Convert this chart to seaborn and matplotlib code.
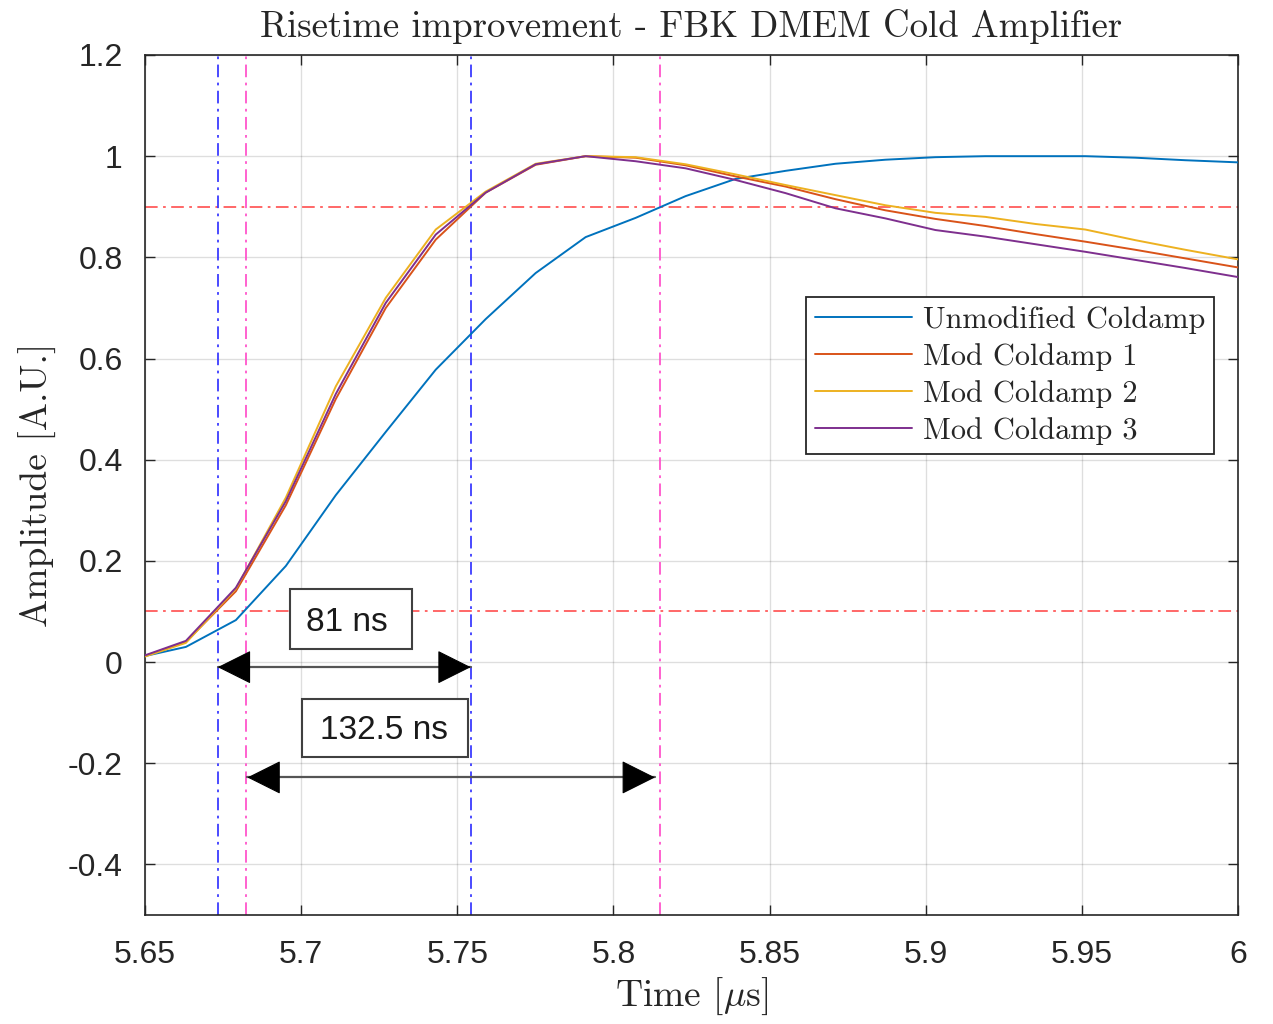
import numpy as np
import pandas as pd
import matplotlib
matplotlib.use("Agg")
import matplotlib.pyplot as plt
import seaborn as sns

# ---------------- data ----------------
time_us = [5.6471, 5.6631, 5.6791, 5.6951, 5.7111, 5.7271, 5.7431, 5.7591,
           5.7751, 5.7911, 5.8071, 5.8231, 5.8391, 5.8551, 5.8711, 5.8871,
           5.9031, 5.9191, 5.9351, 5.9511, 5.9671, 5.9831, 5.9991, 6.0151]

unmodified = [0.008, 0.030, 0.083, 0.190, 0.330, 0.455, 0.578, 0.678,
              0.769, 0.840, 0.878, 0.921, 0.955, 0.971, 0.985, 0.993,
              0.998, 1.000, 1.000, 1.000, 0.997, 0.992, 0.988, 0.984]
mod1 = [0.006, 0.040, 0.140, 0.310, 0.520, 0.700, 0.835, 0.928,
        0.983, 1.000, 0.997, 0.982, 0.960, 0.940, 0.915, 0.893,
        0.876, 0.862, 0.846, 0.831, 0.815, 0.798, 0.781, 0.765]
mod2 = [0.005, 0.038, 0.145, 0.325, 0.545, 0.720, 0.855, 0.930,
        0.985, 1.000, 0.998, 0.984, 0.964, 0.943, 0.923, 0.903,
        0.888, 0.880, 0.866, 0.855, 0.834, 0.815, 0.797, 0.780]
mod3 = [0.007, 0.042, 0.147, 0.318, 0.530, 0.710, 0.845, 0.928,
        0.984, 1.000, 0.990, 0.976, 0.953, 0.927, 0.897, 0.877,
        0.854, 0.841, 0.826, 0.811, 0.795, 0.779, 0.762, 0.745]

series_names = ["Unmodified Coldamp", "Mod Coldamp 1", "Mod Coldamp 2", "Mod Coldamp 3"]
series_colors = ["#0072BD", "#D95319", "#EDB120", "#7E2F8E"]

# threshold levels and crossing times
levels = [0.1, 0.9]
mod_t10, mod_t90 = 5.6733, 5.7543      # 81 ns
unmod_t10, unmod_t90 = 5.6823, 5.8148  # 132.5 ns
label_mod = "81 ns"
label_unmod = "132.5 ns"

xticks = [5.65, 5.7, 5.75, 5.8, 5.85, 5.9, 5.95, 6.0]
xticklabels = ["5.65", "5.7", "5.75", "5.8", "5.85", "5.9", "5.95", "6"]
yticks = [-0.4, -0.2, 0.0, 0.2, 0.4, 0.6, 0.8, 1.0, 1.2]
yticklabels = ["-0.4", "-0.2", "0", "0.2", "0.4", "0.6", "0.8", "1", "1.2"]

# ---------------- build table ----------------
frames = []
for name, vals in zip(series_names, [unmodified, mod1, mod2, mod3]):
    frames.append(pd.DataFrame({"t": time_us, "amp": vals, "series": name}))
df = pd.concat(frames, ignore_index=True)

sns.set_theme(style="white")
plt.rcParams["mathtext.fontset"] = "cm"
plt.rcParams["axes.unicode_minus"] = False

fig = plt.figure(figsize=(12.73, 10.24), dpi=100)
ax = fig.add_axes([0.1139, 0.1064, 0.8586, 0.8399])

sns.lineplot(data=df, x="t", y="amp", hue="series", hue_order=series_names,
             palette=series_colors, estimator=None, sort=False, lw=1.4,
             ax=ax, legend=True, zorder=3)

ax.set_xlim(5.65, 6.0)
ax.set_ylim(-0.5, 1.2)

# threshold lines
dashdot = (0, (7, 3, 1.5, 3))
for lv in levels:
    ax.axhline(lv, color="#FF5C5C", lw=1.3, ls=dashdot, zorder=2)
for tv in [mod_t10, mod_t90]:
    ax.axvline(tv, color="#3B3BFF", lw=1.3, ls=dashdot, zorder=2)
for tv in [unmod_t10, unmod_t90]:
    ax.axvline(tv, color="#FF55CC", lw=1.3, ls=dashdot, zorder=2)

# arrows (grey shaft, black heads)
head_len_data = 0.0095
def double_arrow(x0, x1, y):
    ax.plot([x0, x1], [y, y], color="#555555", lw=1.6, zorder=5)
    style = "-|>,head_length=1.1,head_width=0.55"
    for a, b in [(x0, x1), (x1, x0)]:
        sgn = 1 if b > a else -1
        ax.annotate("", xy=(b, y), xytext=(b - sgn * head_len_data, y),
                    arrowprops=dict(arrowstyle=style, mutation_scale=20,
                                    color="black", lw=0.8, shrinkA=0, shrinkB=0),
                    zorder=6)

double_arrow(mod_t10, mod_t90, -0.01)
double_arrow(unmod_t10 + 0.0005, unmod_t90 - 0.0015, -0.228)

# text boxes
ax.add_patch(plt.Rectangle((5.6964, 0.0256), 5.7355 - 5.6964, 0.144 - 0.0256,
                           facecolor="white", edgecolor="#404040", lw=1.5, zorder=6))
ax.text(5.7147, 0.078, label_mod, ha="center", va="center", fontsize=24,
        family="Liberation Sans", color="#1a1a1a", zorder=7)
ax.add_patch(plt.Rectangle((5.7003, -0.187), 5.7534 - 5.7003, 0.114,
                           facecolor="white", edgecolor="#404040", lw=1.5, zorder=6))
ax.text(5.7265, -0.135, label_unmod, ha="center", va="center", fontsize=24,
        family="Liberation Sans", color="#1a1a1a", zorder=7)

# axes styling
ax.set_xticks(xticks)
ax.set_xticklabels(xticklabels)
ax.set_yticks(yticks)
ax.set_yticklabels(yticklabels)
for lab in ax.get_xticklabels() + ax.get_yticklabels():
    lab.set_family("Liberation Sans")
    lab.set_fontsize(23)
    lab.set_color("#262626")
ax.tick_params(direction="in", length=7, width=1, colors="#262626",
               top=True, right=True, bottom=True, left=True, pad=12)
ax.tick_params(axis="y", pad=16)
ax.tick_params(axis="x", pad=18)
ax.grid(True, color="#000000", alpha=0.13, lw=1)
for sp in ax.spines.values():
    sp.set_color("#262626")
    sp.set_linewidth(1.2)
ax.set_facecolor("white")

ax.set_xlabel(r"Time [$\mu$s]", family="cmr10", fontsize=27, labelpad=4)
ax.set_ylabel("Amplitude [A.U.]", family="cmr10", fontsize=27, labelpad=8)
ax.set_title("Risetime improvement - FBK DMEM Cold Amplifier", family="cmr10",
             fontsize=26.5, pad=13)

leg = ax.legend(loc="upper left", bbox_to_anchor=(0.605, 0.7186), borderaxespad=0,
                fancybox=False, framealpha=1, edgecolor="#262626",
                prop={"family": "cmr10", "size": 21.8}, handlelength=3.2,
                labelspacing=0.3, borderpad=0.3, handletextpad=0.35)
leg.get_frame().set_linewidth(1.3)
leg.set_zorder(8)
for lh in leg.get_lines():
    lh.set_linewidth(1.4)

fig.savefig("out.png", dpi=100, facecolor="white")
